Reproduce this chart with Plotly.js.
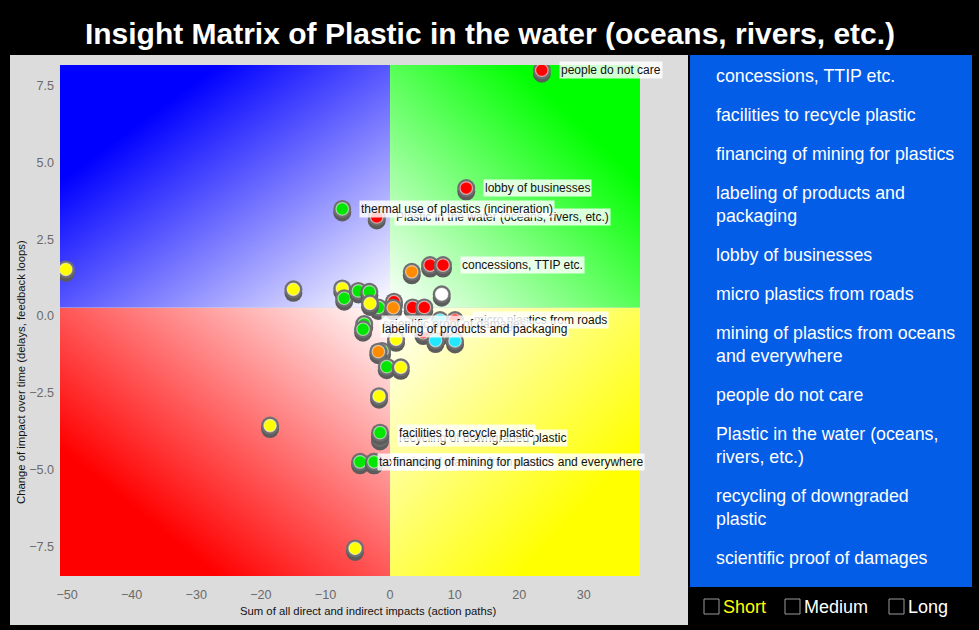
<!DOCTYPE html>
<html>
<head>
<meta charset="utf-8">
<script src="https://cdn.plot.ly/plotly-3.0.1.min.js"></script>
<style>
  html, body { margin: 0; padding: 0; background: #000; }
  #chart { width: 979px; height: 630px; }
</style>
</head>
<body>
<div id="chart"></div>
<script>
// ---------------- data ----------------
const pointX = [-50.2, -14.97, -18.58, -5.42, -7.4, -7.1, -4.9, -3.2, -1.8, -3.1,
  0.6, 0.5, 3.5, 5.3, 8.0, 3.36, 6.2, 8.2, -2.06, -7.4,
  11.8, 23.5, 7.74, 10.06, 5.15, 7.63, 7.04, 10.06, -4.0, -4.18,
  0.93, -1.24, -1.81, -0.51, 1.66, -1.7, -1.55, -1.55, -4.64, -2.48, -2.48];
const pointY = [1.52, 0.87, -3.57, -7.57, 0.90, 0.58, 0.82, 0.79, 0.28, 0.41,
  0.47, 0.27, 0.28, 0.28, 0.71, 1.44, 1.66, 1.66, 3.23, 3.49,
  4.17, 8.01, -0.13, -0.13, -0.54, -0.59, -0.80, -0.81, -0.26, -0.43,
  -0.76, -1.14, -1.16, -1.65, -1.67, -2.61, -3.97, -3.80, -4.75, -4.75, -4.75];
const pointColor = ['yellow', 'yellow', 'yellow', 'yellow', 'yellow', 'green', 'green', 'green', 'green', 'yellow',
  'red', 'orange', 'red', 'red', 'white', 'orange', 'red', 'red', 'red', 'green',
  'red', 'red', 'cyan', 'red', 'red', 'red', 'cyan', 'cyan', 'green', 'green',
  'yellow', 'green', 'orange', 'green', 'yellow', 'yellow', 'green', 'green', 'green', 'green', 'green'];
const pointLabel = ['', '', '', '', '', '', '', '', '', '',
  '', '', '', '', '', '', '', 'concessions, TTIP etc.', 'Plastic in the water (oceans, rivers, etc.)', 'thermal use of plastics (incineration)',
  'lobby of businesses', 'people do not care', '', 'micro plastics from roads', '', '', '', '', 'scientific proof of damages', 'labeling of products and packaging',
  '', '', '', '', '', '', 'recycling of downgraded plastic', 'facilities to recycle plastic', 'tax on plastics', 'mining of plastics from oceans and everywhere', 'financing of mining for plastics'];

const legendItems = ['concessions, TTIP etc.', 'facilities to recycle plastic', 'financing of mining for plastics',
  'labeling of products and<br>packaging', 'lobby of businesses', 'micro plastics from roads',
  'mining of plastics from oceans<br>and everywhere', 'people do not care', 'Plastic in the water (oceans,<br>rivers, etc.)',
  'recycling of downgraded<br>plastic', 'scientific proof of damages'];
const horizonLabels = ['Short', 'Medium', 'Long'];

const xTickVals = [-50, -40, -30, -20, -10, 0, 10, 20, 30];
const yTickVals = [-7.5, -5, -2.5, 0, 2.5, 5, 7.5];

const xRange = [-51.1, 38.7];
const yRange = [-8.47, 8.18];
const quadrantSplit = {x: 0, y: 0.27};

const xTitle = 'Sum of all direct and indirect impacts (action paths)';
const yTitle = 'Change of impact over time (delays, feedback loops)';
const chartTitle = 'Insight Matrix of Plastic in the water (oceans, rivers, etc.)';

// ---------------- styles / layout ----------------
const W = 979, H = 630;
const colorMap = {red: '#ff0000', green: '#00e600', yellow: '#ffff00', orange: '#ff8c00', cyan: '#22e8ff', white: '#ffffff'};
const plotLeft = 60, plotRight = 640, plotTop = 65, plotBottom = 576;
const px = v => v / W;
const py = v => 1 - v / H;

const dyShadow = 3.5 * (yRange[1] - yRange[0]) / (plotBottom - plotTop);

const traces = [];
for (let i = 0; i < pointX.length; i++) {
  traces.push({x: [pointX[i]], y: [pointY[i] - dyShadow], type: 'scatter', mode: 'markers',
    marker: {size: 18, color: '#5c5c5c', line: {width: 0}}, hoverinfo: 'skip', showlegend: false});
  traces.push({x: [pointX[i]], y: [pointY[i]], type: 'scatter', mode: 'markers',
    marker: {size: 18, color: '#6f6f6f', line: {width: 0}}, hoverinfo: 'skip', showlegend: false});
  traces.push({x: [pointX[i]], y: [pointY[i]], type: 'scatter', mode: 'markers',
    marker: {size: 12.5, color: colorMap[pointColor[i]], line: {width: 1.2, color: 'rgba(255,255,255,0.55)'}},
    hoverinfo: 'skip', showlegend: false, name: pointLabel[i]});
}

function grad(color, x1, y1, x2, y2) {
  const svg = '<svg xmlns="http://www.w3.org/2000/svg" width="200" height="200" viewBox="0 0 200 200" preserveAspectRatio="none">' +
    '<defs><linearGradient id="g" x1="' + x1 + '" y1="' + y1 + '" x2="' + x2 + '" y2="' + y2 + '">' +
    '<stop offset="0" stop-color="#ffffff"/><stop offset="0.76" stop-color="' + color + '"/><stop offset="1" stop-color="' + color + '"/>' +
    '</linearGradient></defs><rect x="0" y="0" width="200" height="200" fill="url(#g)"/></svg>';
  return 'data:image/svg+xml;charset=utf-8,' + encodeURIComponent(svg);
}

const images = [
  {source: grad('#0000ff', 1, 1, 0, 0), x: xRange[0], y: yRange[1], sizex: quadrantSplit.x - xRange[0], sizey: yRange[1] - quadrantSplit.y},
  {source: grad('#00ff00', 0, 1, 1, 0), x: quadrantSplit.x, y: yRange[1], sizex: xRange[1] - quadrantSplit.x, sizey: yRange[1] - quadrantSplit.y},
  {source: grad('#ff0000', 1, 0, 0, 1), x: xRange[0], y: quadrantSplit.y, sizex: quadrantSplit.x - xRange[0], sizey: quadrantSplit.y - yRange[0]},
  {source: grad('#ffff00', 0, 0, 1, 1), x: quadrantSplit.x, y: quadrantSplit.y, sizex: xRange[1] - quadrantSplit.x, sizey: quadrantSplit.y - yRange[0]}
].map(im => Object.assign(im, {xref: 'x', yref: 'y', xanchor: 'left', yanchor: 'top', sizing: 'stretch', layer: 'below'}));

const FONT = 'Liberation Sans, Arial, Helvetica, sans-serif';
const annotations = [];

// point labels
for (let i = 0; i < pointX.length; i++) {
  if (!pointLabel[i]) continue;
  annotations.push({x: pointX[i], y: pointY[i], xref: 'x', yref: 'y', text: pointLabel[i], showarrow: false,
    xanchor: 'left', yanchor: 'middle', xshift: 17, bgcolor: 'rgba(255,255,255,0.82)', borderpad: 1,
    font: {family: FONT, size: 12, color: '#111111'}});
}

// axis titles
annotations.push({x: px(368), y: py(611), xref: 'paper', yref: 'paper', text: xTitle, showarrow: false,
  xanchor: 'center', yanchor: 'middle', font: {family: FONT, size: 11.3, color: '#111111'}});
annotations.push({x: px(21), y: py(372), xref: 'paper', yref: 'paper', text: yTitle, showarrow: false, textangle: -90,
  xanchor: 'center', yanchor: 'middle', font: {family: FONT, size: 11.3, color: '#111111'}});

// legend list
const legendYpx = [76, 115, 154, 204.5, 255, 294, 344.5, 395, 445.5, 507.5, 558];
legendItems.forEach((t, i) => {
  annotations.push({x: px(714), y: py(legendYpx[i]), xref: 'paper', yref: 'paper', text: t, showarrow: false,
    xanchor: 'left', yanchor: 'middle', align: 'left', font: {family: FONT, size: 17.8, color: '#ffffff'}});
});

// horizon checkboxes
const horizonXpx = [721, 802, 906];
const horizonColors = ['#ffff00', '#ffffff', '#ffffff'];
const boxXpx = [704, 785, 889];
const shapes = [
  {type: 'rect', xref: 'paper', yref: 'paper', x0: px(10), x1: px(688), y0: py(625), y1: py(55),
    fillcolor: '#dcdcdc', line: {width: 0}, layer: 'below'},
  {type: 'rect', xref: 'paper', yref: 'paper', x0: px(690), x1: px(972), y0: py(587), y1: py(55),
    fillcolor: '#045de6', line: {width: 0}, layer: 'below'}
];
horizonLabels.forEach((t, i) => {
  annotations.push({x: px(horizonXpx[i]), y: py(607), xref: 'paper', yref: 'paper', text: t, showarrow: false,
    xanchor: 'left', yanchor: 'middle', font: {family: FONT, size: 18, color: horizonColors[i]}});
  shapes.push({type: 'rect', xref: 'paper', yref: 'paper', x0: px(boxXpx[i]), x1: px(boxXpx[i] + 15),
    y0: py(614), y1: py(599), fillcolor: '#000000', line: {width: 1, color: '#9a9a9a'}, layer: 'above'});
});

const layout = {
  width: W, height: H,
  margin: {l: 0, r: 0, t: 0, b: 0},
  paper_bgcolor: '#000000',
  plot_bgcolor: 'rgba(0,0,0,0)',
  showlegend: false,
  title: {text: chartTitle, x: px(490), xanchor: 'center', y: py(33), yanchor: 'middle', yref: 'paper',
    font: {family: FONT, size: 30, weight: 700, color: '#ffffff'}},
  xaxis: {domain: [px(plotLeft), px(plotRight)], range: xRange, tickvals: xTickVals, showgrid: false, zeroline: false,
    showline: false, ticks: '', ticklabelstandoff: 9, tickfont: {family: FONT, size: 12.6, color: '#6a6a6a'}, fixedrange: true},
  yaxis: {domain: [py(plotBottom), py(plotTop)], range: yRange, tickvals: yTickVals, tickformat: '.1f', showgrid: false,
    zeroline: false, showline: false, ticks: '', ticklabelstandoff: 5, tickfont: {family: FONT, size: 12.6, color: '#6a6a6a'}, fixedrange: true},
  images: images,
  shapes: shapes,
  annotations: annotations,
  hovermode: false
};

Plotly.newPlot('chart', traces, layout, {displayModeBar: false, staticPlot: true});
</script>
</body>
</html>
